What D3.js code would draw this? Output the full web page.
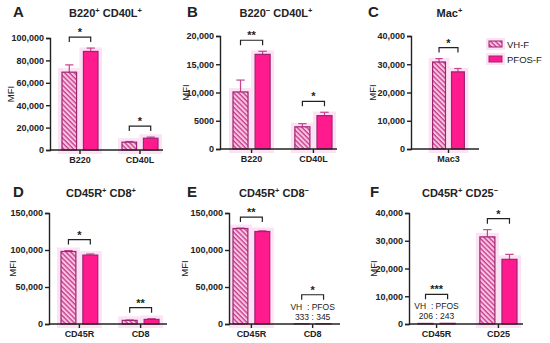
<!DOCTYPE html>
<html>
<head>
<meta charset="utf-8">
<script src="https://cdn.jsdelivr.net/npm/d3@7"></script>
<style>
  body { margin: 0; background: #fff; }
  text { font-family: "Liberation Sans", Arial, sans-serif; fill: #222; }
</style>
</head>
<body>
<svg id="chart"></svg>
<script>
var width = 550, height = 343;

// data, one set of arrays per panel
var catsA = ["B220", "CD40L"];
var vhA = [69500, 7000], vhErrA = [6500, 600];
var pfosA = [88000, 10500], pfosErrA = [3000, 1000];
var sigA = ["*", "*"];
var ticksA = [0, 20000, 40000, 60000, 80000, 100000];

var catsB = ["B220", "CD40L"];
var vhB = [10100, 3930], vhErrB = [2100, 550];
var pfosB = [16750, 5900], pfosErrB = [550, 600];
var sigB = ["**", "*"];
var ticksB = [0, 5000, 10000, 15000, 20000];

var catsC = ["Mac3"];
var vhC = [30800], vhErrC = [1200];
var pfosC = [27300], pfosErrC = [1200];
var sigC = ["*"];
var ticksC = [0, 10000, 20000, 30000, 40000];

var catsD = ["CD45R", "CD8"];
var vhD = [98000, 4900], vhErrD = [1200, 500];
var pfosD = [93100, 6200], pfosErrD = [1500, 1000];
var sigD = ["*", "**"];
var ticksD = [0, 50000, 100000, 150000];

var catsE = ["CD45R", "CD8"];
var vhE = [129000, 333], vhErrE = [600, 0];
var pfosE = [125000, 345], pfosErrE = [900, 0];
var sigE = ["**", "*"];
var noteE = [null, ["VH  : PFOS", "333 : 345"]];
var ticksE = [0, 50000, 100000, 150000];

var catsF = ["CD45R", "CD25"];
var vhF = [206, 31400], vhErrF = [0, 2600];
var pfosF = [243, 23300], pfosErrF = [0, 1800];
var sigF = ["***", "*"];
var noteF = [["VH  : PFOS", "206 : 243"], null];
var ticksF = [0, 10000, 20000, 30000, 40000];

var series = ["VH-F", "PFOS-F"];

var panels = [
  { letter: "A", title: [["B220", ""], ["+", "sup"], [" CD40L", ""], ["+", "sup"]], cats: catsA, vh: vhA, vhErr: vhErrA, pfos: pfosA, pfosErr: pfosErrA, sig: sigA, ticks: ticksA,
    ax: 50, ae: 163, top: 38, bot: 150, g: [62, 158], lx: 13, tx: 105.5, mx: 10, base: 17 },
  { letter: "B", title: [["B220", ""], ["\u2212", "sup"], [" CD40L", ""], ["+", "sup"]], cats: catsB, vh: vhB, vhErr: vhErrB, pfos: pfosB, pfosErr: pfosErrB, sig: sigB, ticks: ticksB,
    ax: 220, ae: 337, top: 36, bot: 149, g: [233, 332], lx: 187, tx: 276, mx: 185, base: 17 },
  { letter: "C", title: [["Mac", ""], ["+", "sup"]], cats: catsC, vh: vhC, vhErr: vhErrC, pfos: pfosC, pfosErr: pfosErrC, sig: sigC, ticks: ticksC,
    ax: 411, ae: 479, top: 36, bot: 149, g: [422, 475], lx: 368, tx: 449.5, mx: 372, base: 17 },
  { letter: "D", title: [["CD45R", ""], ["+", "sup"], [" CD8", ""], ["+", "sup"]], cats: catsD, vh: vhD, vhErr: vhErrD, pfos: pfosD, pfosErr: pfosErrD, sig: sigD, ticks: ticksD,
    ax: 49, ae: 167, top: 213, bot: 324, g: [61, 159], lx: 13, tx: 101, mx: 12, base: 197 },
  { letter: "E", title: [["CD45R", ""], ["+", "sup"], [" CD8", ""], ["\u2212", "sup"]], cats: catsE, vh: vhE, vhErr: vhErrE, pfos: pfosE, pfosErr: pfosErrE, sig: sigE, note: noteE, ticks: ticksE,
    ax: 229, ae: 340, top: 213, bot: 324, g: [233, 331], lx: 187, tx: 274, mx: 184, base: 197 },
  { letter: "F", title: [["CD45R", ""], ["+", "sup"], [" CD25", ""], ["\u2212", "sup"]], cats: catsF, vh: vhF, vhErr: vhErrF, pfos: pfosF, pfosErr: pfosErrF, sig: sigF, note: noteF, ticks: ticksF,
    ax: 409, ae: 523, top: 213, bot: 324, g: [418, 517], lx: 370, tx: 460, mx: 373, base: 197 }
];

var fillVH = "url(#hatch)", fillPF = "#ff1a8e";
var stroke = "#9c2470", errColor = "#c4448a", halo = "#fce2f4";

var svg = d3.select("#chart").attr("width", width).attr("height", height);

var defs = svg.append("defs");
var pat = defs.append("pattern")
  .attr("id", "hatch")
  .attr("patternUnits", "userSpaceOnUse")
  .attr("width", 3.4).attr("height", 3.4)
  .attr("patternTransform", "rotate(-45)");
pat.append("rect").attr("width", 3.4).attr("height", 3.4).attr("fill", "#f8c6e4");
pat.append("line").attr("x1", 1).attr("y1", 0).attr("x2", 1).attr("y2", 3.4)
  .attr("stroke", "#c53585").attr("stroke-width", 1.3);

function fmt(d) { return d >= 10000 ? d3.format(",")(d) : String(d); }

panels.forEach(function(p) {
  var g = svg.append("g");

  // panel letter and title
  g.append("text").attr("x", p.lx).attr("y", p.base)
    .attr("font-size", 15).attr("font-weight", "bold").text(p.letter);
  var t = g.append("text").attr("x", p.tx).attr("y", p.base)
    .attr("text-anchor", "middle").attr("font-size", 11).attr("font-weight", "bold");
  p.title.forEach(function(part) {
    var s = t.append("tspan").text(part[0]);
    if (part[1] == "sup") s.attr("font-size", 7.5).attr("dy", -4);
    else if (t.selectAll("tspan").size() > 1) s.attr("dy", 4);
  });

  var y = d3.scaleLinear()
    .domain([0, p.ticks[p.ticks.length - 1]])
    .range([p.bot, p.top]);

  var x0 = d3.scaleBand()
    .domain(p.cats)
    .range(p.g)
    .paddingInner(0.4)
    .paddingOuter(0);

  var x1 = d3.scaleBand()
    .domain(series)
    .range([0, x0.bandwidth()])
    .paddingInner(0.32);

  var rows = [];
  p.cats.forEach(function(c, i) {
    rows.push({ cat: c, s: "VH-F", v: p.vh[i], e: p.vhErr[i] });
    rows.push({ cat: c, s: "PFOS-F", v: p.pfos[i], e: p.pfosErr[i] });
  });

  // pale glow behind bars
  g.selectAll(".halo").data(rows.filter(function(d) { return d.v > 2000; }))
    .enter().append("rect")
    .attr("x", function(d) { return x0(d.cat) + x1(d.s) - 4; })
    .attr("y", function(d) { return y(d.v) - 4; })
    .attr("width", x1.bandwidth() + 8)
    .attr("height", function(d) { return p.bot - y(d.v) + 8; })
    .attr("fill", halo);

  // error bars (upper only)
  var eb = g.selectAll(".err").data(rows.filter(function(d) { return d.e > 0; }))
    .enter().append("g");
  eb.append("line")
    .attr("x1", function(d) { return x0(d.cat) + x1(d.s) + x1.bandwidth() / 2; })
    .attr("x2", function(d) { return x0(d.cat) + x1(d.s) + x1.bandwidth() / 2; })
    .attr("y1", function(d) { return y(d.v); })
    .attr("y2", function(d) { return y(d.v + d.e); })
    .attr("stroke", errColor).attr("stroke-width", 1.2);
  eb.append("line")
    .attr("x1", function(d) { return x0(d.cat) + x1(d.s) + x1.bandwidth() * 0.22; })
    .attr("x2", function(d) { return x0(d.cat) + x1(d.s) + x1.bandwidth() * 0.78; })
    .attr("y1", function(d) { return y(d.v + d.e); })
    .attr("y2", function(d) { return y(d.v + d.e); })
    .attr("stroke", errColor).attr("stroke-width", 1.2);

  // bars
  g.selectAll(".bar").data(rows)
    .enter().append("rect")
    .attr("x", function(d) { return x0(d.cat) + x1(d.s); })
    .attr("y", function(d) { return y(d.v); })
    .attr("width", x1.bandwidth())
    .attr("height", function(d) { return p.bot - y(d.v); })
    .attr("fill", function(d) { return d.s == "VH-F" ? fillVH : fillPF; })
    .attr("stroke", stroke).attr("stroke-width", 1.2);

  // y axis
  var yAxis = d3.axisLeft(y).tickValues(p.ticks).tickFormat(fmt).tickSize(4).tickPadding(2);
  var ya = g.append("g").attr("transform", "translate(" + p.ax + ",0)").call(yAxis);
  ya.select(".domain").attr("stroke", "#222").attr("stroke-width", 1.4);
  ya.selectAll(".tick line").attr("stroke", "#222").attr("stroke-width", 1.4);
  ya.selectAll(".tick text").attr("font-size", 9).attr("font-weight", "bold")
    .attr("font-family", "Liberation Sans, Arial, sans-serif").attr("fill", "#222");

  // x axis
  g.append("line").attr("x1", p.ax).attr("x2", p.ae).attr("y1", p.bot).attr("y2", p.bot)
    .attr("stroke", "#222").attr("stroke-width", 1.4);
  var xa = g.append("g").attr("transform", "translate(0," + p.bot + ")")
    .call(d3.axisBottom(x0).tickSize(4).tickPadding(3));
  xa.select(".domain").remove();
  xa.selectAll(".tick line").attr("stroke", "#222").attr("stroke-width", 1.4);
  xa.selectAll(".tick text").attr("font-size", 9).attr("font-weight", "bold")
    .attr("font-family", "Liberation Sans, Arial, sans-serif").attr("fill", "#222");

  // MFI label
  g.append("text")
    .attr("transform", "translate(" + (p.mx + 3.5) + "," + ((p.top + p.bot) / 2) + ") rotate(-90)")
    .attr("text-anchor", "middle").attr("font-size", 9.5).text("MFI");

  // significance brackets
  p.cats.forEach(function(c, i) {
    var note = p.note ? p.note[i] : null;
    var topVal = Math.max(p.vh[i] + p.vhErr[i], p.pfos[i] + p.pfosErr[i]);
    var by = y(topVal) - (note ? 29 : 11);
    var xa1 = x0(c) + x1("VH-F") + x1.bandwidth() / 2;
    var xa2 = x0(c) + x1("PFOS-F") + x1.bandwidth() / 2;
    g.append("path")
      .attr("d", "M" + xa1 + "," + (by + 5) + "V" + by + "H" + xa2 + "V" + (by + 5))
      .attr("fill", "none").attr("stroke", "#222").attr("stroke-width", 1.2);
    g.append("text").attr("x", (xa1 + xa2) / 2).attr("y", by - 1)
      .attr("text-anchor", "middle").attr("font-size", 11).attr("font-weight", "bold")
      .text(p.sig[i]);
    if (note) {
      note.forEach(function(line, k) {
        g.append("text").attr("x", (xa1 + xa2) / 2).attr("y", by + 15 + k * 10)
          .attr("text-anchor", "middle").attr("font-size", 8.5).attr("fill", "#444")
          .attr("xml:space", "preserve").text(line);
      });
    }
  });
});

// legend
var legend = svg.append("g").selectAll("g").data(series).enter().append("g")
  .attr("transform", function(d, i) { return "translate(489," + (41 + i * 15) + ")"; });
legend.append("rect").attr("x", -3).attr("y", -3).attr("width", 19).attr("height", 12).attr("fill", halo);
legend.append("rect").attr("width", 13).attr("height", 6)
  .attr("fill", function(d) { return d == "VH-F" ? fillVH : fillPF; })
  .attr("stroke", stroke).attr("stroke-width", 1);
legend.append("text").attr("x", 18).attr("y", 6.5).attr("font-size", 9.5).text(function(d) { return d; });
</script>
</body>
</html>
